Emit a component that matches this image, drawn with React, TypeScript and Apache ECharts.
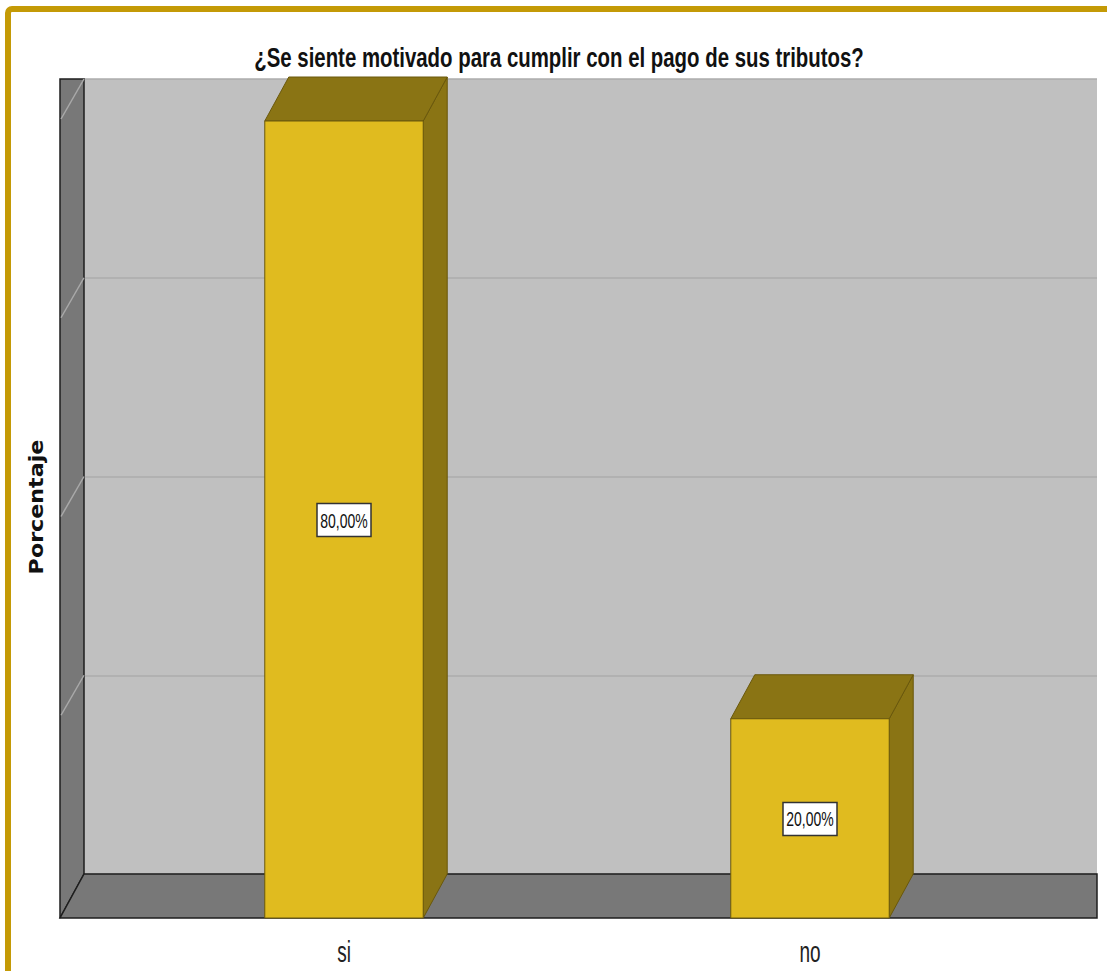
import React, { useEffect, useRef } from "react";
import * as echarts from "echarts";

const titleText = "¿Se siente motivado para cumplir con el pago de sus tributos?";
const yAxisTitle = "Porcentaje";
const categories = ["si", "no"];
const percentages = [80, 20];
const yTicks = [0, 20, 40, 60, 80];
const yMax = 80;
const yInterval = 20;

const DX = 24;
const DY = 44;
const FRONT = "#e0bb1f";
const DARK = "#8a7414";
const EDGE = "#6a580c";
const WALL = "#787878";
const SANS = "'Liberation Sans', Arial, sans-serif";

export default function App() {
  const ref = useRef<HTMLDivElement>(null);
  useEffect(() => {
    if (!ref.current) return;
    const chart = echarts.init(ref.current, undefined, { renderer: "svg" });
    const option: any = {
      animation: false,
      backgroundColor: "#ffffff",
      graphic: [
        {
          type: "rect",
          shape: { x: 8, y: 9, width: 1300, height: 1200, r: 4 },
          style: { fill: "none", stroke: "#c49a06", lineWidth: 6 },
          z: 100,
        },
        {
          type: "text",
          x: 559,
          y: 57,
          scaleX: 1.02,
          scaleY: 1.4,
          style: {
            text: titleText,
            font: "bold 20px " + SANS,
            fill: "#111",
            align: "center",
            verticalAlign: "middle",
          },
        },
        {
          type: "text",
          x: 37,
          y: 507,
          rotation: Math.PI / 2,
          scaleX: 1.17,
          style: {
            text: yAxisTitle,
            font: "bold 19px 'DejaVu Sans', sans-serif",
            fill: "#111",
            align: "center",
            verticalAlign: "middle",
          },
        },
      ],
      grid: [
        { left: 84, top: 79, width: 1013, height: 795, show: true, backgroundColor: "#c0c0c0", borderWidth: 0 },
        { left: 111, top: 121, width: 932, height: 797, show: false },
      ],
      xAxis: [
        { gridIndex: 0, type: "value", min: 0, max: 1, show: false },
        {
          gridIndex: 1,
          type: "category",
          data: categories,
          axisLine: { show: false },
          axisTick: { show: false },
          axisLabel: { show: false },
        },
      ],
      yAxis: [
        {
          gridIndex: 0,
          type: "value",
          min: 0,
          max: yMax,
          interval: yInterval,
          axisLine: { show: false },
          axisTick: { show: false },
          axisLabel: { show: false },
          splitLine: { show: true, lineStyle: { color: "#acacac", width: 1.5 } },
        },
        { gridIndex: 1, type: "value", min: 0, max: yMax, interval: yInterval, show: false, splitLine: { show: false } },
      ],
      series: [
        {
          type: "custom",
          xAxisIndex: 0,
          yAxisIndex: 0,
          data: [[0]],
          silent: true,
          z: 1,
          renderItem: (params: any, api: any) => {
            const p0 = api.coord([0, 0]);
            const pTop = api.coord([0, yMax]);
            const pRight = api.coord([1, 0]);
            return {
              type: "group",
              children: [
                {
                  type: "polygon",
                  shape: {
                    points: [
                      [pTop[0], pTop[1]],
                      [pTop[0] - DX, pTop[1]],
                      [p0[0] - DX, p0[1] + DY],
                      [p0[0], p0[1]],
                    ],
                  },
                  style: { fill: WALL, stroke: "#1e1e1e", lineWidth: 1.5 },
                },
                {
                  type: "polygon",
                  shape: {
                    points: [
                      [p0[0], p0[1]],
                      [pRight[0], p0[1]],
                      [pRight[0], p0[1] + DY],
                      [p0[0] - DX, p0[1] + DY],
                    ],
                  },
                  style: { fill: WALL, stroke: "#1e1e1e", lineWidth: 1.5 },
                },
              ],
            };
          },
        },
        {
          type: "custom",
          xAxisIndex: 0,
          yAxisIndex: 0,
          data: yTicks.filter((t) => t > 0).map((t) => [0, t]),
          silent: true,
          z: 2,
          renderItem: (params: any, api: any) => {
            const p = api.coord([0, api.value(1)]);
            return {
              type: "line",
              shape: { x1: p[0], y1: p[1], x2: p[0] - DX + 1, y2: p[1] + DY - 4 },
              style: { stroke: "#a9a9a9", lineWidth: 1.5 },
            };
          },
        },
        {
          type: "custom",
          xAxisIndex: 1,
          yAxisIndex: 1,
          data: percentages.map((v, i) => [i, v]),
          z: 3,
          renderItem: (params: any, api: any) => {
            const idx = api.value(0);
            const val = api.value(1);
            const top = api.coord([idx, val]);
            const base = api.coord([idx, 0]);
            const w = api.size([1, 0])[0] * 0.34;
            const x0 = top[0] - w / 2;
            const x1 = x0 + w;
            const yt = top[1];
            const yb = base[1];
            const cy = (yt + yb) / 2;
            const label = val.toFixed(2).replace(".", ",") + "%";
            return {
              type: "group",
              children: [
                {
                  type: "polygon",
                  shape: { points: [[x1, yt], [x1 + DX, yt - DY], [x1 + DX, yb - DY], [x1, yb]] },
                  style: { fill: DARK, stroke: EDGE, lineWidth: 1 },
                },
                {
                  type: "polygon",
                  shape: { points: [[x0, yt], [x0 + DX, yt - DY], [x1 + DX, yt - DY], [x1, yt]] },
                  style: { fill: DARK, stroke: EDGE, lineWidth: 1 },
                },
                {
                  type: "rect",
                  shape: { x: x0, y: yt, width: w, height: yb - yt },
                  style: { fill: FRONT, stroke: EDGE, lineWidth: 1 },
                },
                {
                  type: "rect",
                  shape: { x: top[0] - 27, y: cy - 16, width: 54, height: 33 },
                  style: { fill: "#ffffff", stroke: "#333", lineWidth: 1.5 },
                },
                {
                  type: "text",
                  x: top[0],
                  y: cy + 1,
                  scaleY: 1.5,
                  style: {
                    text: label,
                    font: "14px " + SANS,
                    fill: "#111",
                    align: "center",
                    verticalAlign: "middle",
                  },
                },
                {
                  type: "text",
                  x: top[0],
                  y: yb + 33,
                  scaleY: 1.6,
                  style: {
                    text: categories[idx],
                    font: "19px " + SANS,
                    fill: "#222",
                    align: "center",
                    verticalAlign: "middle",
                  },
                },
              ],
            };
          },
        },
      ],
    };
    chart.setOption(option);
    return () => chart.dispose();
  }, []);
  return (
    <div
      ref={ref}
      style={{ position: "absolute", left: 0, top: 0, width: 1107, height: 971 }}
    />
  );
}
